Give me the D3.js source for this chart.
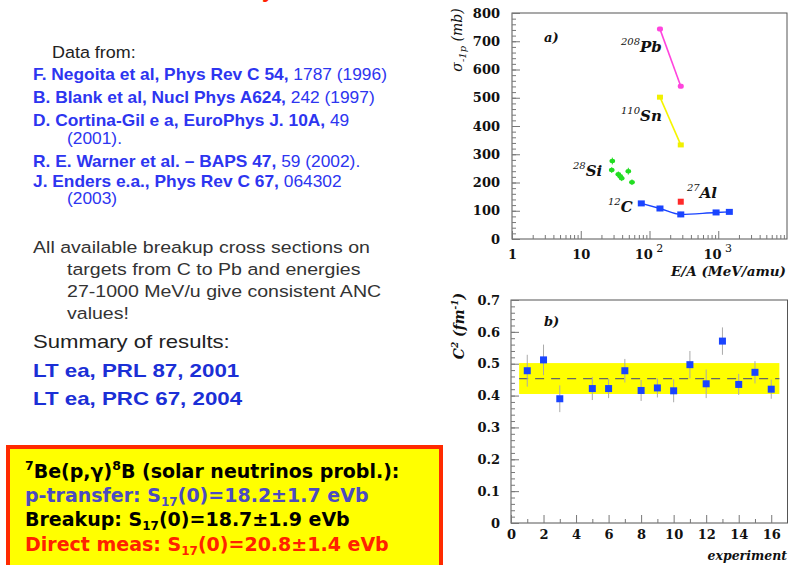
<!DOCTYPE html>
<html><head><meta charset="utf-8">
<script src="https://cdn.jsdelivr.net/npm/d3@7"></script>
<style>
html,body{margin:0;padding:0;background:#fff;}
svg{display:block;}
</style></head>
<body>
<svg id="c" width="788" height="565"></svg>
<script>
// ---------- DATA (panel a: sigma_-1p vs E/A) ----------
const cEnergy = [76, 142, 285, 930, 1450];
const cSigma  = [126, 108, 87, 94, 96];
const cErr    = [6, 10, 10, 6, 6];
const pbEnergy = [142, 285];
const pbSigma  = [743, 541];
const snEnergy = [142, 285];
const snSigma  = [502, 333];
const alEnergy = [285];
const alSigma  = [132];
const siEnergy = [28.8, 28.2, 35.2, 37.5, 39.4, 49.2, 55.6];
const siSigma  = [276, 244, 229, 222, 215, 240, 201];
const siErr    = [12, 10, 10, 10, 10, 12, 10];
const topYTicks = [0, 100, 200, 300, 400, 500, 600, 700, 800];
const topXTicks = [1, 10, 100, 1000];

// ---------- DATA (panel b: C^2 per experiment) ----------
const experiment = [1, 2, 3, 5, 6, 7, 8, 9, 10, 11, 12, 13, 14, 15, 16];
const anc2       = [0.478, 0.512, 0.390, 0.422, 0.422, 0.478, 0.416, 0.424, 0.415, 0.497, 0.437, 0.571, 0.435, 0.473, 0.420];
const anc2Err    = [0.050, 0.048, 0.042, 0.036, 0.030, 0.037, 0.033, 0.030, 0.036, 0.043, 0.045, 0.043, 0.033, 0.035, 0.030];
const ancMean = 0.453;
const ancBand = [0.405, 0.502];
const botYTicks = [0, 0.1, 0.2, 0.3, 0.4, 0.5, 0.6, 0.7];
const botXTicks = [0, 2, 4, 6, 8, 10, 12, 14, 16];

// ---------- TEXT ----------
const refLines = [
  {b:"F. Negoita et al, Phys Rev C 54,", n:" 1787 (1996)", x:33, y:80},
  {b:"B. Blank et al, Nucl Phys A624,", n:" 242 (1997)", x:33, y:103},
  {b:"D. Cortina-Gil e a, EuroPhys J. 10A,", n:" 49", x:33, y:126},
  {b:"", n:"(2001).", x:67, y:144},
  {b:"R. E. Warner et al. – BAPS 47,", n:" 59 (2002).", x:33, y:167},
  {b:"J. Enders e.a., Phys Rev C 67,", n:" 064302", x:33, y:187},
  {b:"", n:"(2003)", x:67, y:204}
];
const noteLines = [
  {t:"All available breakup cross sections on", x:33, y:253},
  {t:"targets from C to Pb and energies", x:67, y:275},
  {t:"27-1000 MeV/u give consistent ANC", x:67, y:297},
  {t:"values!", x:67, y:319}
];
const summaryLines = ["LT ea, PRL 87, 2001", "LT ea, PRC 67, 2004"];

const svg = d3.select("#c");
svg.append("rect").attr("width",788).attr("height",565).attr("fill","#fff");

const SERIF = "'DejaVu Serif', 'Liberation Serif', serif";
const SANS = "'Liberation Sans', Arial, sans-serif";

// ---------------- LEFT TEXT ----------------
svg.append("text").attr("x",262).attr("y",-3).attr("fill","#ff2200")
  .attr("font-family",SANS).attr("font-weight","bold").attr("font-size",22).text("y");

function stretched(x,y,sx){
  return svg.append("text").attr("transform",`translate(${x},${y}) scale(${sx},1)`).attr("font-family",SANS);
}
stretched(52,58,1.1).attr("font-size",16.3).attr("fill","#222").text("Data from:");

refLines.forEach(r=>{
  const t = stretched(r.x,r.y,1.065).attr("font-size",16.3).attr("fill","#2d35f0");
  if (r.b) t.append("tspan").attr("font-weight","bold").text(r.b);
  t.append("tspan").text(r.n);
});
noteLines.forEach(r=>{
  stretched(r.x,r.y,1.2).attr("font-size",16.3).attr("fill","#333").text(r.t);
});
stretched(33,348,1.19).attr("font-size",18.6).attr("fill","#222").text("Summary of results:");
summaryLines.forEach((s,i)=>{
  stretched(33,377+i*28,1.2).attr("font-size",18.6).attr("font-weight","bold").attr("fill","#1b2fd6").text(s);
});

// ---------------- BOX ----------------
svg.append("rect").attr("x",8).attr("y",447).attr("width",433).attr("height",130)
  .attr("fill","#ffff00").attr("stroke","#ff2a00").attr("stroke-width",4);
const BOXF = "'DejaVu Sans', Verdana, sans-serif";
function boxLine(y, color, parts){
  const t = svg.append("text").attr("x",25).attr("y",y).attr("font-family",BOXF)
    .attr("font-weight","bold").attr("font-size",19).attr("fill",color);
  parts.forEach(p=>{
    const ts = t.append("tspan").text(p.t);
    if (p.sup) ts.attr("font-size",12.5).attr("dy",-8);
    if (p.sub) ts.attr("font-size",12).attr("dy",4);
    if (p.back) ts.attr("dy",p.back);
  });
}
boxLine(478, "#000", [{t:"7",sup:1},{t:"Be(p,γ)",back:8},{t:"8",sup:1},{t:"B (solar neutrinos probl.):",back:8}]);
boxLine(502, "#4b4bc0", [{t:"p-transfer: S"},{t:"17",sub:1},{t:"(0)=18.2±1.7 eVb",back:-4}]);
boxLine(526, "#000", [{t:"Breakup: S"},{t:"17",sub:1},{t:"(0)=18.7±1.9 eVb",back:-4}]);
boxLine(551, "#ff2200", [{t:"Direct meas: S"},{t:"17",sub:1},{t:"(0)=20.8±1.4 eVb",back:-4}]);

// ---------------- PANEL A ----------------
const xA = d3.scaleLog().domain([1,1e4]).range([512,787]);
const yA = d3.scaleLinear().domain([0,800]).range([239,13]);
const gA = svg.append("g");
gA.append("rect").attr("x",512).attr("y",13).attr("width",275).attr("height",226)
  .attr("fill","none").attr("stroke","#555").attr("stroke-width",1);

const yMinorA = d3.range(0,801,20);
gA.append("g").attr("transform","translate(512,0)")
  .call(d3.axisLeft(yA).tickValues(yMinorA).tickSize(-4).tickFormat(""))
  .call(g=>g.select(".domain").remove()).selectAll("line").attr("stroke","#777");
gA.append("g").attr("transform","translate(512,0)")
  .call(d3.axisLeft(yA).tickValues(topYTicks).tickSize(-8).tickPadding(12).tickFormat(d3.format("d")))
  .call(g=>g.select(".domain").remove())
  .call(g=>g.selectAll("line").attr("stroke","#777"))
  .call(g=>g.selectAll("text").attr("font-family",SERIF).attr("font-weight","bold")
     .attr("font-size",13).attr("fill","#111").attr("x",-12));
const xMinorA = [];
[1,10,100,1000].forEach(d=>{for(let k=2;k<=9;k++) xMinorA.push(d*k);});
gA.append("g").attr("transform","translate(0,239)")
  .call(d3.axisBottom(xA).tickValues(xMinorA).tickSize(-4).tickFormat(""))
  .call(g=>g.select(".domain").remove()).selectAll("line").attr("stroke","#777");
const xAx = gA.append("g").attr("transform","translate(0,239)")
  .call(d3.axisBottom(xA).tickValues(topXTicks).tickSize(-8).tickPadding(11).tickFormat(d=> d<100 ? String(d) : "10"))
  .call(g=>g.select(".domain").remove())
  .call(g=>g.selectAll("line").attr("stroke","#777"));
xAx.selectAll("text").attr("font-family",SERIF).attr("font-weight","bold")
   .attr("font-size",13).attr("fill","#111")
   .each(function(d){
     if (d>=100){
       d3.select(this).attr("dx",-1);
       d3.select(this).append("tspan").attr("dy",-7).attr("font-size",11).attr("font-weight","normal").text(" "+Math.round(Math.log10(d)));
     }
   });
gA.append("text").attr("x",786).attr("y",276).attr("text-anchor","end")
  .attr("font-family",SERIF).attr("font-style","italic").attr("font-weight","bold")
  .attr("font-size",13.5).attr("fill","#111").text("E/A (MeV/amu)");
const ytA = gA.append("text").attr("transform","translate(462,40) rotate(-90)")
  .attr("text-anchor","middle").attr("font-family",SERIF).attr("font-style","italic")
  .attr("font-size",14).attr("fill","#111");
ytA.append("tspan").text("σ");
ytA.append("tspan").attr("dy",4).attr("font-size",10).text("-1p");
ytA.append("tspan").attr("dy",-4).text(" (mb)");
gA.append("text").attr("x",544).attr("y",42).attr("font-family",SERIF).attr("font-style","italic")
  .attr("font-weight","bold").attr("font-size",13).attr("fill","#111").text("a)");

const lineA = d3.line().x(d=>xA(d[0])).y(d=>yA(d[1]));
const pb = pbEnergy.map((e,i)=>[e,pbSigma[i]]);
gA.append("path").attr("d",lineA(pb)).attr("fill","none").attr("stroke","#ff44dd").attr("stroke-width",1.6);
gA.selectAll(".pb").data(pb).join("rect").attr("x",d=>xA(d[0])-3).attr("y",d=>yA(d[1])-2.5)
  .attr("width",6).attr("height",5).attr("rx",2).attr("fill","#ff44dd");
const sn = snEnergy.map((e,i)=>[e,snSigma[i]]);
gA.append("path").attr("d",lineA(sn)).attr("fill","none").attr("stroke","#f5f500").attr("stroke-width",1.6);
gA.selectAll(".sn").data(sn).join("rect").attr("x",d=>xA(d[0])-3).attr("y",d=>yA(d[1])-2.5)
  .attr("width",6).attr("height",5).attr("fill","#f0f000");
const si = siEnergy.map((e,i)=>({e, s:siSigma[i], err:siErr[i]}));
gA.selectAll(".sierr").data(si).join("line").attr("x1",d=>xA(d.e)).attr("x2",d=>xA(d.e))
  .attr("y1",d=>yA(d.s-d.err)).attr("y2",d=>yA(d.s+d.err)).attr("stroke","#22dd22").attr("stroke-width",1);
gA.selectAll(".sih").data(si).join("line").attr("x1",d=>xA(d.e)-2.5).attr("x2",d=>xA(d.e)+2.5)
  .attr("y1",d=>yA(d.s)).attr("y2",d=>yA(d.s)).attr("stroke","#22dd22").attr("stroke-width",1);
gA.selectAll(".si").data(si).join("ellipse").attr("cx",d=>xA(d.e)).attr("cy",d=>yA(d.s))
  .attr("rx",2.8).attr("ry",2.2).attr("fill","#22dd22");
const cc = cEnergy.map((e,i)=>({e, s:cSigma[i], err:cErr[i]}));
gA.append("path").attr("d",d3.line().x(d=>xA(d.e)).y(d=>yA(d.s)).curve(d3.curveMonotoneX)(cc))
  .attr("fill","none").attr("stroke","#1a44ff").attr("stroke-width",1.4);
gA.selectAll(".cerr").data(cc).join("line").attr("x1",d=>xA(d.e)).attr("x2",d=>xA(d.e))
  .attr("y1",d=>yA(d.s-d.err)).attr("y2",d=>yA(d.s+d.err)).attr("stroke","#bbb").attr("stroke-width",1);
gA.selectAll(".c").data(cc).join("rect").attr("x",d=>xA(d.e)-3.5).attr("y",d=>yA(d.s)-3)
  .attr("width",7).attr("height",6).attr("fill","#1a44ff");
gA.selectAll(".al").data(alEnergy.map((e,i)=>[e,alSigma[i]])).join("rect")
  .attr("x",d=>xA(d[0])-3).attr("y",d=>yA(d[1])-3).attr("width",6).attr("height",6).attr("fill","#ff2a2a");

function iso(x,y,mass,sym){
  const t = gA.append("text").attr("x",x).attr("y",y).attr("font-family",SERIF)
    .attr("font-style","italic").attr("font-weight","bold").attr("font-size",15).attr("fill","#111");
  t.append("tspan").attr("font-size",10).attr("font-weight","normal").attr("dy",-7).text(mass);
  t.append("tspan").attr("dy",7).text(sym);
}
iso(621,52,"208","Pb");
iso(621,121,"110","Sn");
iso(573,176,"28","Si");
iso(687,198,"27","Al");
iso(608,212,"12","C");

// ---------------- PANEL B ----------------
const xB = d3.scaleLinear().domain([0,17]).range([511,787.5]);
const yB = d3.scaleLinear().domain([0,0.7]).range([523,300]);
const gB = svg.append("g");
gB.append("rect").attr("x",511).attr("y",300).attr("width",276.5).attr("height",223)
  .attr("fill","none").attr("stroke","#555").attr("stroke-width",1);
gB.append("g").attr("transform","translate(511,0)")
  .call(d3.axisLeft(yB).tickValues(d3.range(0,0.701,0.02)).tickSize(-4).tickFormat(""))
  .call(g=>g.select(".domain").remove()).selectAll("line").attr("stroke","#777");
gB.append("g").attr("transform","translate(511,0)")
  .call(d3.axisLeft(yB).tickValues(botYTicks).tickSize(-8).tickFormat(d=> d===0 ? "0" : d3.format(".1f")(d)))
  .call(g=>g.select(".domain").remove())
  .call(g=>g.selectAll("line").attr("stroke","#777"))
  .call(g=>g.selectAll("text").attr("font-family",SERIF).attr("font-weight","bold")
     .attr("font-size",13).attr("fill","#111").attr("x",-11));
gB.append("g").attr("transform","translate(0,523)")
  .call(d3.axisBottom(xB).tickValues(d3.range(1,17,2)).tickSize(-4).tickFormat(""))
  .call(g=>g.select(".domain").remove()).selectAll("line").attr("stroke","#777");
gB.append("g").attr("transform","translate(0,523)")
  .call(d3.axisBottom(xB).tickValues(botXTicks).tickSize(-8).tickPadding(10).tickFormat(d3.format("d")))
  .call(g=>g.select(".domain").remove())
  .call(g=>g.selectAll("line").attr("stroke","#777"))
  .call(g=>g.selectAll("text").attr("font-family",SERIF).attr("font-weight","bold")
     .attr("font-size",13).attr("fill","#111").attr("y",7));
gB.append("text").attr("x",787).attr("y",560).attr("text-anchor","end")
  .attr("font-family",SERIF).attr("font-style","italic").attr("font-weight","bold")
  .attr("font-size",12.5).attr("fill","#111").text("experiment");
const ytB = gB.append("text").attr("transform","translate(464,326) rotate(-90)")
  .attr("text-anchor","middle").attr("font-family",SERIF).attr("font-style","italic")
  .attr("font-weight","bold").attr("font-size",14).attr("fill","#111");
ytB.append("tspan").text("C");
ytB.append("tspan").attr("dy",-6).attr("font-size",9).text("2");
ytB.append("tspan").attr("dy",6).text(" (fm");
ytB.append("tspan").attr("dy",-6).attr("font-size",9).text("-1");
ytB.append("tspan").attr("dy",6).text(")");
gB.append("text").attr("x",544).attr("y",326).attr("font-family",SERIF).attr("font-style","italic")
  .attr("font-weight","bold").attr("font-size",13).attr("fill","#111").text("b)");

gB.append("rect").attr("x",xB(0.5)).attr("y",yB(ancBand[1]))
  .attr("width",xB(16.5)-xB(0.5)).attr("height",yB(ancBand[0])-yB(ancBand[1])).attr("fill","#ffff00");
gB.append("line").attr("x1",xB(0.5)).attr("x2",xB(16.5)).attr("y1",yB(ancMean)).attr("y2",yB(ancMean))
  .attr("stroke","#666").attr("stroke-width",1.2).attr("stroke-dasharray","9,7");
const pts = experiment.map((e,i)=>({e, v:anc2[i], err:anc2Err[i]}));
gB.selectAll(".be").data(pts).join("line").attr("x1",d=>xB(d.e)).attr("x2",d=>xB(d.e))
  .attr("y1",d=>yB(d.v-d.err)).attr("y2",d=>yB(d.v+d.err)).attr("stroke","#aaa").attr("stroke-width",1);
gB.selectAll(".bp").data(pts).join("rect").attr("x",d=>xB(d.e)-3.5).attr("y",d=>yB(d.v)-3.5)
  .attr("width",7).attr("height",7).attr("fill","#1a44ff");
</script>
</body></html>
